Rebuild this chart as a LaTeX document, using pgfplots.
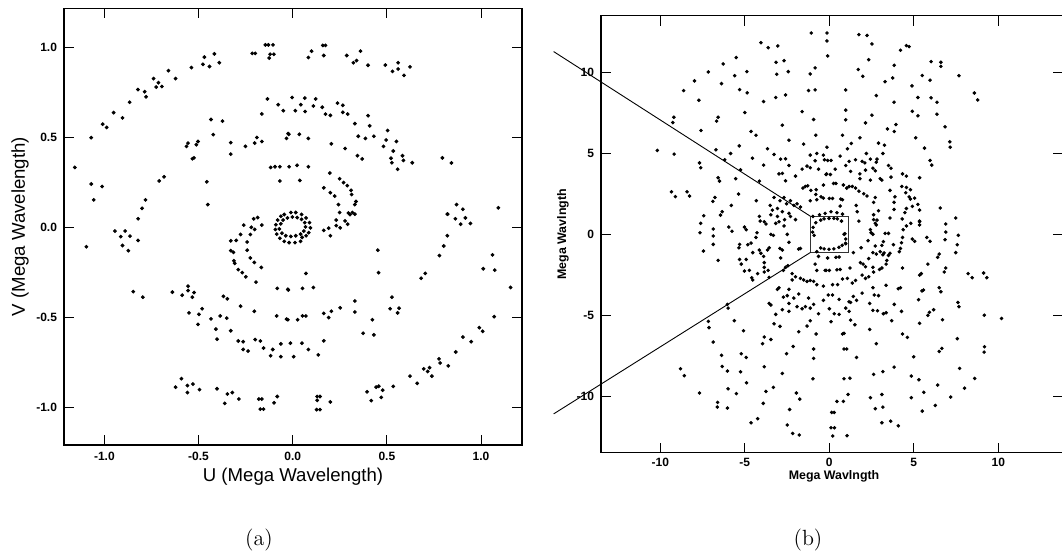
\documentclass[border=0pt]{standalone}
\usepackage{fontspec}
\usepackage{pgfplots}
\pgfplotsset{compat=1.18}
\newfontfamily\arial{Liberation Sans}

\pgfplotsset{
  uvframe/.style={
    scale only axis,
    anchor=south west,
    tick align=inside,
    major tick length=5pt,
    every tick/.style={black, line width=0.5pt},
    axis line style={black, line width=0.7pt},
    ticklabel style={font=\arial\bfseries\fontsize{6}{7}\selectfont},
  },
  uvdots/.style={only marks, mark=*, mark size=0.74pt,
    mark options={draw=none, fill=black}},
}

\begin{document}
\begin{tikzpicture}

% ---------------- (a) inner uv-coverage ----------------
\begin{axis}[uvframe,
  at={(32pt,55pt)}, width=229pt, height=218.35pt,
  xmin=-1.2146, xmax=1.2177, ymin=-1.208, ymax=1.215,
  xtick={-1,-0.5,0,0.5,1}, xticklabels={-1.0,-0.5,0.0,0.5,1.0},
  ytick={-1,-0.5,0,0.5,1}, yticklabels={-1.0,-0.5,0.0,0.5,1.0},
  xlabel={U (Mega Wavelength)}, ylabel={V (Mega Wavelength)},
  label style={font=\arial\fontsize{9.3}{11}\selectfont},
  xlabel style={at={(axis description cs:0.5,-0.0733)}, anchor=center},
  ylabel style={at={(axis description cs:-0.096,0.5)}, anchor=center},
]
% upper left
\addplot[uvdots] coordinates {
(-1.157,0.332)(-1.07,0.497)(-1.07,0.24)(-1.012,0.226)(-1.057,0.152)(-1.009,0.572)
(-0.988,0.554)(-0.951,0.636)(-0.904,0.607)(-0.866,0.694)(-0.822,0.764)(-0.786,0.752)
(-0.779,0.724)(-0.739,0.825)(-0.713,0.802)(-0.725,0.778)(-0.695,0.781)(-0.66,0.869)
(-0.622,0.825)(-0.538,0.886)(-0.469,0.944)(-0.416,0.962)(-0.477,0.904)(-0.442,0.892)
(-0.39,0.913)(-0.199,0.965)(-0.215,0.965)(-0.129,1.012)(-0.145,1.012)(-0.105,1.012)
(-0.12,0.96)(-0.1,0.96)(-0.125,0.939)(-0.134,0.712)(-0.164,0.629)(-0.077,0.68)
(-0.05,0.647)(-0.434,0.598)(-0.373,0.589)(-0.422,0.514)(-0.564,0.449)(-0.556,0.467)
(-0.512,0.458)(-0.503,0.476)(-0.524,0.385)(-0.533,0.38)(-0.329,0.47)(-0.329,0.406)
(-0.251,0.449)(-0.202,0.467)(-0.19,0.498)(-0.164,0.476)(-0.117,0.332)(-0.094,0.336)
(-0.068,0.336)(-0.068,0.257)(-0.709,0.257)(-0.683,0.28)(-0.456,0.252)(-0.451,0.126)
(-0.8,0.105)(-0.782,0.152)(-0.024,0.52)(-0.019,0.336)(-0.033,0.493)
};
% upper right
\addplot[uvdots] coordinates {
(0.174,1.009)(0.16,1.009)(0.1,0.977)(0.083,0.942)(0.165,0.953)(0.287,0.953)(0.36,0.977)
(0.339,0.925)(0.322,0.913)(0.4,0.899)(0.492,0.9)(0.56,0.913)(0.56,0.878)(0.53,0.865)
(0.623,0.89)(0.591,0.843)
(-0.003,0.72)(0.064,0.717)(0.122,0.712)(0.043,0.68)(0.11,0.673)(0.157,0.666)(0.014,0.647)
(0.066,0.642)(0.238,0.689)(0.266,0.677)(0.174,0.628)(0.2,0.621)(0.266,0.638)(0.292,0.628)
(0.4,0.619)(0.33,0.575)(0.409,0.563)(0.504,0.537)(0.348,0.505)(0.386,0.493)(0.431,0.505)
(0.496,0.484)(0.551,0.476)(0.482,0.449)(0.534,0.423)(0.583,0.397)(0.588,0.371)(0.522,0.383)
(0.527,0.358)(0.557,0.322)(0.635,0.358)(0.795,0.385)(0.843,0.357)
(-0.021,0.516)(0.035,0.516)(0.083,0.493)(0.205,0.463)(0.278,0.437)(0.344,0.397)(0.369,0.379)
(0.023,0.344)(0.083,0.336)(0.038,0.26)
(0.197,0.301)(0.249,0.269)(0.27,0.248)(0.29,0.231)(0.31,0.205)(0.313,0.182)(0.336,0.143)
(0.33,0.126)(0.165,0.219)(0.2,0.192)(0.223,0.173)(0.243,0.126)(0.317,0.082)(0.296,0.079)
(0.249,0.082)(0.87,0.126)(0.904,0.1)(1.092,0.108)(0.823,0.073)
};
% lower left
\addplot[uvdots] coordinates {
(-0.821,0.047)(-0.944,-0.021)(-0.89,-0.021)(-0.913,-0.052)(-0.864,-0.049)(-0.904,-0.101)
(-0.873,-0.13)(-0.821,-0.073)(-1.096,-0.108)(-0.847,-0.357)(-0.796,-0.388)(-0.639,-0.36)
(-0.587,-0.377)(-0.556,-0.327)(-0.556,-0.351)(-0.524,-0.362)(-0.533,-0.388)(-0.551,-0.475)
(-0.498,-0.483)(-0.481,-0.452)(-0.503,-0.539)(-0.434,-0.508)(-0.385,-0.492)(-0.35,-0.504)
(-0.368,-0.383)(-0.347,-0.397)(-0.277,-0.438)(-0.204,-0.466)(-0.408,-0.565)(-0.402,-0.621)
(-0.329,-0.574)(-0.289,-0.631)(-0.263,-0.635)(-0.263,-0.678)(-0.237,-0.687)(-0.199,-0.623)
(-0.172,-0.631)(-0.155,-0.67)(-0.117,-0.713)(-0.106,-0.678)(-0.085,-0.492)(-0.063,-0.718)
(-0.063,-0.647)(-0.033,-0.51)(-0.082,-0.339)(-0.023,-0.348)
(-0.591,-0.84)(-0.622,-0.887)(-0.559,-0.878)(-0.53,-0.87)(-0.559,-0.917)(-0.495,-0.901)
(-0.402,-0.896)(-0.347,-0.925)(-0.321,-0.917)(-0.286,-0.953)(-0.361,-0.977)(-0.164,-0.953)
(-0.18,-0.953)(-0.172,-1.009)(-0.155,-1.009)(-0.099,-0.974)(-0.082,-0.939)
(-0.207,0.047)(-0.186,0.054)(-0.26,0.012)(-0.22,0)(-0.164,0.012)(-0.202,-0.012)
(-0.225,-0.04)(-0.277,-0.04)(-0.3,-0.073)(-0.329,-0.075)(-0.242,-0.082)(-0.329,-0.13)
(-0.315,-0.139)(-0.312,-0.186)(-0.308,-0.2)(-0.242,-0.127)(-0.225,-0.17)(-0.204,-0.195)
(-0.167,-0.223)(-0.289,-0.235)(-0.268,-0.252)(-0.249,-0.275)(-0.195,-0.304)
};
% lower right
\addplot[uvdots] coordinates {
(0.821,0.073)(0.864,0.047)(0.892,0.017)(0.917,0.052)(0.944,0.021)(0.821,-0.047)
(0.802,-0.104)(0.779,-0.157)(1.061,-0.153)(1.012,-0.23)(1.073,-0.238)(1.157,-0.334)
(0.704,-0.256)(0.682,-0.283)(1.07,-0.496)(0.991,-0.557)(1.009,-0.577)(0.948,-0.635)
(0.904,-0.609)(0.866,-0.692)(0.777,-0.73)(0.783,-0.753)(0.826,-0.769)(0.739,-0.826)
(0.717,-0.8)(0.696,-0.786)(0.727,-0.779)(0.661,-0.866)(0.623,-0.826)(0.534,-0.883)
(0.478,-0.904)(0.443,-0.887)(0.457,-0.882)(0.395,-0.913)(0.47,-0.944)(0.417,-0.962)
(0.2,-0.969)(0.13,-0.939)(0.145,-0.939)(0.13,-0.96)(0.127,-1.012)(0.145,-1.012)
(0.452,-0.127)(0.456,-0.252)(0.527,-0.388)(0.517,-0.452)(0.565,-0.449)(0.557,-0.475)
(0.423,-0.513)(0.33,-0.409)(0.33,-0.47)(0.252,-0.447)(0.374,-0.588)(0.431,-0.597)
(0.165,-0.478)(0.205,-0.466)(0.191,-0.501)(0.07,-0.256)(0.052,-0.339)(0.11,-0.334)
(-0.026,-0.344)(0.026,-0.513)(0.052,-0.492)(0.07,-0.492)(-0.026,-0.513)(0.165,-0.63)
(-0.012,-0.643)(0.049,-0.643)(0.083,-0.678)(0.136,-0.708)(0.005,-0.718)
(0.165,-0.017)(0.191,-0.005)(0.2,-0.047)(0.231,0.009)(0.252,-0.003)(0.278,0.035)
(0.292,0.017)(0.304,0.07)(0.33,0.073)(0.231,0.04)
};
% short baselines near the origin
\addplot[uvdots] coordinates {
(-0.045,0.071)(-0.01,0.082)(0.016,0.082)(0.047,0.071)(0.071,0.052)(0.089,0.026)
(0.094,-0.003)(0.085,-0.03)(0.071,-0.047)(0.05,-0.056)
(-0.063,0.019)(-0.051,0.04)(-0.028,0.052)(-0.002,0.057)(0.024,0.054)(0.047,0.044)
(0.064,0.026)(0.068,0.002)(0.059,-0.021)(0.042,-0.038)(0.016,-0.047)(-0.01,-0.051)
(-0.037,-0.047)(-0.057,-0.033)(-0.071,-0.009)
(-0.089,0.014)(-0.092,-0.012)(-0.085,-0.038)(-0.068,-0.061)(-0.045,-0.078)
(-0.019,-0.085)(0.012,-0.085)(0.042,-0.078)(-0.08,0.04)(-0.063,0.061)
};
\end{axis}

% ---------------- (b) full uv-coverage ----------------
\begin{axis}[uvframe,
  at={(300.5pt,51.15pt)}, width=231.2pt, height=218.5pt,
  xmin=-13.51, xmax=13.85, ymin=-13.5, ymax=13.52,
  xtick={-10,-5,0,5,10}, xticklabels={-10,-5,0,5,10},
  ytick={-10,-5,0,5,10}, yticklabels={-10,-5,0,5,10},
  xticklabel style={yshift=0.6pt},
  clip=false,
  uvdots/.append style={mark size=0.68pt},
  xlabel={Mega Wavlngth}, ylabel={Mega Wavlngth},
  label style={font=\arial\bfseries\fontsize{6.2}{7}\selectfont},
  xlabel style={at={(axis description cs:0.504,-0.0545)}, anchor=center},
  ylabel style={at={(axis description cs:-0.0822,0.5)}, anchor=center},
]
% upper left
\addplot[uvdots] coordinates {
(-1.07,12.45)(-4.05,11.85)(-3.62,11.54)(-3.05,11.65)(-5.51,10.93)(-6.28,10.54)(-7.16,10.04)
(-7.98,9.49)(-8.62,8.89)(-7.72,8.29)(-9.2,7.24)(-9.26,6.91)(-10.18,5.19)(-9.18,4.96)
(-7.68,4.42)(-7.61,4.12)(-9.34,2.63)(-9.11,2.33)(-8.42,2.63)(-8.27,2.37)(-7.59,6.42)
(-6.58,7.24)(-6.67,7.0)(-6.71,5.23)(-6.19,4.61)(-5.84,5.0)(-6.58,3.5)(-6.5,3.29)
(-5.54,3.44)(-5.25,3.99)(-6.77,2.28)(-6.89,2.04)(-5.37,2.49)(-5.8,1.79)(-7.43,1.15)
(-6.34,1.4)(-6.44,1.19)(-5.6,9.81)(-4.88,10.06)(-6.38,9.32)(-5.31,8.95)(-4.86,8.75)
(-5.0,7.53)(-4.63,6.36)(-4.34,6.13)(-5.33,5.47)(-4.55,4.71)(-4.14,3.29)(-3.89,4.28)
(-3.66,5.29)(-3.27,4.94)(-2.88,4.65)(-2.59,4.67)(-2.98,3.74)(-2.78,3.77)(-2.59,3.31)
(-2.39,4.26)(-2.0,3.6)(-3.89,8.21)(-3.17,8.46)(-2.59,8.62)(-3.11,9.9)(-2.43,10.06)
(-3.15,10.64)(-2.68,10.74)(-2.78,6.75)(-2.39,5.82)(-1.61,7.59)(-1.13,9.92)(-1.23,8.89)
(-0.84,8.93)(-0.93,7.1)(-0.8,6.13)(-1.52,5.58)(-1.13,4.9)(-0.74,5.0)(-0.35,4.9)
(-0.84,4.55)(-0.64,4.03)(-1.61,4.03)(-1.32,4.22)(-1.13,4.12)(-1.56,2.86)(-1.42,2.96)
(-1.28,3.0)(-1.09,2.72)(-0.78,2.76)(-0.35,3.05)(-0.16,3.74)(-0.74,2.14)(-0.35,2.24)
(-1.13,2.08)(-3.27,2.28)(-2.92,2.08)(-2.68,2.28)(-2.53,1.89)(-2.3,2.08)(-2.1,1.79)
(-1.91,1.89)(-1.71,1.69)(-3.5,1.79)(-3.37,1.5)(-3.07,1.6)(-2.78,1.4)(-2.39,1.3)
(-2.3,1.11)(-2.0,0.91)(-2.65,0.91)(-3.07,1.11)(-3.46,1.21)(-4.14,1.11)(-4.09,0.82)
(-4.32,2.08)(-0.97,1.11)(-0.58,1.21)(-0.25,1.3)(-0.84,10.29)(-0.49,2.32)(-0.8,2.47)
};
% upper right
\addplot[uvdots] coordinates {
(-0.14,12.45)(-0.14,11.96)(-0.1,11.03)(1.75,12.35)(2.23,12.3)(2.52,11.77)(4.56,11.67)
(4.72,11.61)(4.21,11.38)(2.33,10.8)(3.84,10.45)(1.71,10.19)(1.98,9.77)(3.75,9.67)
(3.3,9.44)(5.5,9.82)(6.02,10.68)(6.6,10.64)(6.6,10.39)(5.96,9.53)(7.67,9.81)(4.89,9.18)
(0.97,8.93)(2.78,8.58)(3.83,8.17)(5.24,8.46)(6.02,8.44)(6.37,8.17)(8.58,8.74)(8.78,8.31)
(0.97,7.68)(2.52,7.37)(4.91,7.61)(5.24,7.33)(6.37,7.43)(0.97,7.08)(2.14,6.89)(3.94,6.79)
(3.84,6.36)(3.44,6.52)(6.85,6.65)(0.78,6.13)(1.81,5.97)(5.11,5.97)(7.13,5.72)(7.15,5.39)
(2.91,5.64)(3.26,5.51)(1.3,5.62)(1.07,5.29)(5.63,5.33)(-0.14,5.39)(0.64,4.84)(2.19,5.0)
(3.17,5.0)(-0.29,4.61)(-0.1,4.57)(0.1,4.57)(1.17,4.51)(1.55,4.61)(1.94,4.51)(2.1,4.42)
(2.43,4.65)(2.82,4.65)(2.78,4.46)(0.97,4.26)(0.35,4.03)(1.26,3.89)(2.14,3.97)(2.58,4.09)
(2.72,3.93)(3.5,4.26)(3.65,4.09)(4.33,3.74)(4.56,3.6)(5.34,3.5)(-0.19,3.7)(0.06,3.7)
(1.81,3.74)(1.81,3.44)(2.43,3.35)(3.01,3.44)(3.11,3.35)(3.65,3.54)(0.25,3.15)(0.39,3.15)
(0.83,3.05)(1.03,2.86)(1.17,2.96)(1.36,2.96)(1.55,2.86)(1.75,2.67)(2.04,2.51)(2.23,2.37)
(2.72,2.28)(2.62,1.98)(3.59,2.72)(4.29,2.96)(4.56,2.9)(4.8,2.76)(4.52,2.57)(4.72,2.32)
(4.8,2.18)(5.05,2.24)(3.88,2.32)(3.83,1.98)(4.91,1.73)(5.24,1.85)(5.34,1.5)(3.83,1.54)
(4.47,1.34)(4.56,1.6)(2.91,1.46)(2.62,1.21)(1.59,1.79)(1.65,1.4)(0,2.22)(0.19,2.22)
(0.68,2.18)(0.78,2.14)(0.64,1.75)(0.1,1.4)(0.45,1.34)(0.78,1.25)(6.56,1.63)(7.48,1.01)
(2.62,0.91)(2.82,0.88)(3.59,1.01)(4.31,0.95)(5.34,0.82)(1.75,0.82)(5.96,4.57)(6.06,4.28)
};
% lower left
\addplot[uvdots] coordinates {
(-7.61,0.68)(-7.65,0.1)(-6.87,0.33)(-6.87,-0.1)(-6.87,-0.62)(-7.45,-1.03)(-6.58,-1.61)
(-5.95,0.45)(-5.76,0.19)(-5.02,0.45)(-4.92,0.29)(-5.31,-0.62)(-5.35,-0.83)(-4.82,-0.64)
(-4.63,-0.54)(-4.53,-1.13)(-4.34,-0.19)(-4.28,0.1)(-4.14,-0.97)(-5.31,-1.55)(-5.21,-1.84)
(-4.92,-1.55)(-5.02,-2.27)(-4.73,-2.23)(-4.59,-2.68)(-4.53,-2.82)(-4.24,-2.43)(-3.85,-1.75)
(-3.85,-2.04)(-3.85,-2.33)(-4.05,-1.17)(-3.89,-1.36)(-3.66,-0.97)(-3.56,-0.83)(-3.85,0.78)
(-3.75,0.64)(-3.46,0)(-3.31,-0.06)(-3.17,0.68)(-2.98,0.78)(-2.68,0.52)(-2.49,0)(-2.39,-0.49)
(-2.92,-0.87)(-2.78,-0.97)(-2.88,-1.46)(-2.72,-2.23)(-2.59,-2.04)(-2.45,-1.94)(-2.2,-2.43)
(-2.0,-2.62)(-1.81,-0.91)(-1.71,-0.87)(-3.56,-2.66)(-3.62,-2.23)(-2.98,-3.3)(-3.07,-3.4)
(-2.39,-3.4)(-2.2,-2.82)(-1.71,-2.72)(-1.52,-2.82)(-1.32,-2.91)(-1.13,-2.85)(-0.93,-2.91)
(-0.74,-3.11)(-0.35,-3.2)(-0.84,-1.84)(-0.74,-2.23)(-0.25,-2.23)(-0.64,-1.36)(-0.74,-1.07)
(-2.72,-3.88)(-2.49,-3.79)(-2.1,-3.94)(-1.81,-3.69)(-1.23,-3.94)(-0.93,-4.33)(-0.64,-4.91)
(-3.56,-4.27)(-3.46,-4.37)(-2.78,-4.66)(-2.39,-4.76)(-2.39,-4.27)(-1.91,-4.47)(-1.61,-4.6)
(-1.42,-4.47)(-1.13,-4.56)(-0.35,-4.08)(-3.17,-4.95)(-3.27,-5.53)(-2.92,-5.69)(-1.81,-6.02)
(-1.13,-5.34)(-1.32,-5.67)(-0.78,-6.16)(-3.85,-6.35)(-3.46,-6.5)(-3.95,-6.76)(-5.08,-5.96)
(-5.62,-5.34)(-6.03,-4.33)(-5.99,-4.56)(-7.16,-5.38)(-7.12,-5.77)(-6.87,-6.66)(-6.38,-7.48)
(-6.34,-8.17)(-6.03,-8.45)(-5.21,-7.38)(-4.92,-7.61)(-5.25,-8.5)(-4.9,-9.18)(-3.85,-8.19)
(-2.78,-8.6)(-2.14,-6.93)(-2.53,-7.38)(-0.93,-7.09)(-0.93,-7.67)(-0.97,-8.93)(-3.31,-9.46)
(-3.75,-9.71)(-1.95,-9.81)(-1.75,-10.19)(-2.35,-10.83)(-3.91,-10.45)(-5.99,-9.55)
(-5.5,-9.85)(-8.81,-8.31)(-8.58,-8.74)(-7.68,-9.81)(-6.61,-10.39)(-6.63,-10.68)
(-6.03,-10.74)(-4.24,-11.4)(-4.63,-11.65)(-2.49,-11.79)(-2.17,-12.31)(-1.78,-12.41)
};
% lower right
\addplot[uvdots] coordinates {
(5.34,0.78)(5.34,0.58)(4.82,0.68)(4.56,0.52)(4.37,0.29)(6.89,0.64)(6.89,0.14)(6.85,-0.33)
(7.63,-0.06)(7.57,-0.64)(7.48,-1.13)(4.91,-0.29)(5.05,-0.43)(5.77,-0.19)(5.96,-0.43)
(4.33,-0.19)(4.27,-0.52)(4.21,-0.87)(4.14,-1.07)(3.79,-0.64)(3.59,-1.17)(3.2,-0.45)
(3.11,-0.68)(3.3,0.06)(3.5,0.06)(2.72,0.68)(2.78,0.58)(2.43,0.29)(2.47,0.1)(2.58,0)
(2.29,-0.39)(2.72,-0.72)(1.88,-0.83)(1.42,-1.13)(0.87,0)(0.97,-0.29)(0.97,-0.58)
(2.58,-1.13)(2.78,-1.22)(3.01,-1.07)(3.17,-1.26)(3.24,-1.15)(3.5,-1.3)(3.4,-1.61)
(3.36,-1.84)(3.11,-2.08)(2.97,-2.17)(2.58,-2.04)(2.62,-2.33)(2.33,-1.5)(1.84,-1.75)
(2.0,-1.84)(2.14,-2.0)(1.22,-2.08)(0.39,-1.42)(0.58,-1.4)(-0.1,-1.46)(-0.19,-2.23)
(0,-2.23)(0.45,-2.19)(0.64,-2.17)(0.78,-2.76)(1.07,-2.72)(1.36,-3.01)(1.55,-2.85)
(1.94,-2.52)(2.14,-2.72)(2.33,-2.62)(4.33,-2.08)(5.34,-2.52)(5.44,-2.43)(5.83,-1.84)
(6.41,-1.42)(6.5,-1.22)(6.89,-2.08)(6.8,-2.33)(8.21,-2.43)(8.45,-2.68)(9.13,-2.39)
(9.32,-2.68)(0.19,-3.11)(0.49,-3.11)(-0.06,-3.75)(0.19,-3.75)(0.58,-4.02)(0,-4.6)
(0.97,-4.56)(0.58,-4.95)(0.29,-4.91)(0.1,-5.4)(1.26,-5.3)(1.51,-5.59)(1.17,-4.17)
(1.26,-4.21)(1.61,-4.08)(1.42,-3.84)(1.17,-4.76)(1.94,-3.63)(2.39,-4.27)(2.58,-3.3)
(2.66,-3.75)(2.91,-3.79)(2.58,-4.7)(2.85,-4.72)(3.2,-4.91)(3.36,-4.85)(3.69,-5.34)
(3.84,-4.33)(4.08,-3.36)(4.21,-3.3)(3.36,-3.15)(4.27,-4.76)(5.28,-4.04)(5.48,-3.5)
(5.57,-3.44)(5.92,-4.82)(5.83,-5.01)(6.17,-4.66)(5.34,-5.5)(6.5,-3.3)(6.6,-3.55)
(6.7,-5.28)(7.61,-4.21)(7.67,-4.47)(9.17,-5.0)(10.19,-5.2)(2.39,-5.88)(4.33,-6.16)
(4.62,-6.37)(0.78,-6.16)(0.87,-6.12)(2.78,-6.76)(7.57,-6.45)(9.18,-6.95)(9.16,-7.28)
(6.5,-7.24)(6.66,-7.05)(4.99,-7.57)(0.87,-7.09)(1.03,-7.09)(1.61,-7.61)(3.83,-8.21)
(2.62,-8.66)(3.17,-8.49)(4.85,-8.76)(5.3,-8.99)(7.71,-8.29)(8.6,-8.91)(0.87,-8.93)
(1.22,-8.89)(6.41,-9.32)(5.59,-9.77)(8.0,-9.51)(1.11,-9.9)(2.43,-10.1)(3.11,-9.9)
(4.85,-10.1)(7.18,-10.06)(6.27,-10.58)(5.5,-10.93)(0.45,-10.33)(0.83,-10.33)(2.72,-10.78)
(3.17,-10.68)(0.14,-11.01)(0.29,-11.01)(3.11,-11.65)(3.63,-11.55)(4.08,-11.84)
(0.1,-11.96)(0.3,-11.96)(0.2,-12.47)(1.05,-12.45)
};
% shortest baselines inside the zoomed box
\addplot[uvdots] coordinates {
(-0.8,0.72)(-0.51,0.88)(-0.31,0.96)(-0.02,0.99)(0.27,0.99)(0.47,0.96)(0.72,0.82)
(-0.96,0.43)(-0.99,0.14)(-0.9,-0.06)(-0.51,-0.84)(-0.31,-0.9)(-0.02,-0.92)(0.27,-0.9)
(0.57,-0.8)(0.76,-0.68)(0.96,-0.55)(0.92,0.04)
};
% region enlarged in panel (a)
\draw[black!80, line width=0.55pt] (axis cs:-1.12,-1.12) rectangle (axis cs:1.12,1.12);
\draw[black, line width=0.45pt] (axis cs:-16.31,11.3) -- (axis cs:-1.12,1.12);
\draw[black, line width=0.45pt] (axis cs:-16.31,-11.1) -- (axis cs:-1.12,-1.12);
\end{axis}

\node[font=\fontsize{11}{13}\selectfont] at (129.5pt,7.5pt) {(a)};
\node[font=\fontsize{11}{13}\selectfont] at (404pt,7.5pt) {(b)};

\pgfresetboundingbox
\path[use as bounding box] (0,0) rectangle (531pt,277.5pt);
\end{tikzpicture}
\end{document}
